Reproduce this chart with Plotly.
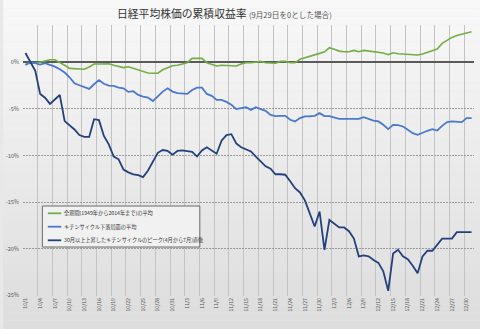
import pandas as pd
import plotly.graph_objects as go

# Calendar days plotted (2014-10-01 .. 2014-12-31), labelled "M/D"
days = pd.date_range("2014-10-01", "2014-12-31", freq="D")
day_labels = [f"{d.month}/{d.day}" for d in days]

series_names = [
    "全期間(1949年から2014年まで)の平均",
    "キチンサイクル下落局面の平均",
    "30月以上上昇したキチンサイクルのピーク(4月から7月)直後",
]

# Cumulative return (%) relative to 9/29
all_years_avg = [
    -0.2, -0.1, -0.1, 0.0, 0.14, 0.28, 0.28, 0.0, -0.32, -0.65,
    -0.68, -0.64, -0.75, -0.5, -0.18, -0.18, -0.18, -0.15, -0.32, -0.43,
    -0.57, -0.47, -0.64, -0.82, -0.96, -1.14, -1.18, -1.16, -0.8, -0.54,
    -0.36, -0.32, -0.18, -0.04, 0.42, 0.42, 0.42, -0.04, -0.22, -0.4,
    -0.32, -0.32, -0.32, -0.4, -0.18, -0.04, -0.04, 0.03, 0.1, -0.04,
    -0.04, -0.1, 0.1, 0.1, -0.04, -0.04, 0.32, 0.5, 0.6, 0.78,
    0.96, 1.13, 1.56, 1.39, 1.2, 1.13, 1.13, 1.28, 1.13, 1.28,
    1.2, 1.1, 1.1, 1.0, 0.81, 1.03, 0.92, 0.89, 0.85, 0.75,
    0.78, 0.89, 1.07, 1.24, 1.42, 2.03, 2.38, 2.67, 2.88, 3.02,
    3.2, 3.27,
]

downturn_avg = [
    -0.29, 0.03, -0.1, -0.25, -0.1, -0.25, -0.47, -0.75, -1.1, -1.6,
    -2.25, -2.46, -2.67, -2.85, -2.35, -1.9, -2.3, -2.5, -2.53, -2.71,
    -2.78, -3.17, -3.1, -3.5, -3.67, -3.78, -4.15, -3.6, -3.14, -2.78,
    -3.14, -3.31, -3.39, -3.39, -2.96, -2.71, -2.71, -3.39, -3.6, -4.03,
    -4.03, -4.24, -4.56, -5.02, -4.91, -4.81, -5.1, -4.81, -5.02, -5.2,
    -5.63, -5.77, -5.74, -5.74, -6.16, -6.34, -5.98, -5.8, -5.78, -5.74,
    -5.45, -5.77, -5.77, -5.88, -6.06, -6.06, -6.06, -6.06, -6.06, -5.88,
    -6.09, -6.24, -6.34, -6.7, -7.16, -6.7, -6.74, -6.88, -7.23, -7.59,
    -7.77, -7.52, -7.34, -7.16, -7.31, -6.81, -6.41, -6.34, -6.34, -6.41,
    -5.98, -5.98,
]

after_peak = [
    1.0, 0.0, -0.9, -3.4, -3.8, -4.45, -4.0, -3.5, -6.3, -6.7,
    -7.2, -7.8, -8.0, -8.0, -6.1, -6.2, -7.9, -8.8, -10.1, -10.4,
    -11.5, -11.8, -12.0, -12.1, -12.3, -11.6, -10.7, -9.7, -9.4, -9.5,
    -9.9, -9.5, -9.45, -9.5, -9.6, -10.1, -9.45, -9.1, -9.45, -9.8,
    -8.4, -7.8, -7.7, -8.7, -9.1, -9.3, -9.55, -10.1, -10.6, -11.15,
    -11.4, -12.0, -12.0, -12.05, -12.75, -13.5, -13.95, -14.8, -16.2, -17.6,
    -16.0, -20.1, -16.9, -17.3, -17.7, -17.7, -18.1, -18.9, -20.8, -20.7,
    -20.8, -21.2, -21.5, -22.4, -24.5, -20.5, -20.1, -20.8, -21.1, -21.8,
    -22.6, -20.8, -20.2, -20.2, -19.5, -18.9, -18.9, -18.9, -18.2, -18.2,
    -18.2, -18.2,
]

y_ticks = [0, -5, -10, -15, -20, -25]
y_tick_labels = ["0%", "-5%", "-10%", "-15%", "-20%", "-25%"]

colors = ["#72ae45", "#4a78cc", "#24407c"]
widths = [1.6, 1.8, 1.8]
FONT = "Noto Sans CJK JP, Noto Sans, sans-serif"

W, H = 480, 329
ML, MR, MT, MB = 20, 6, 25, 33
PW, PH = W - ML - MR, H - MT - MB

pos = list(range(len(days)))
label_step = 3
label_pos = pos[::label_step]

fig = go.Figure()
for name, vals, c, w in zip(series_names, [all_years_avg, downturn_avg, after_peak], colors, widths):
    fig.add_trace(go.Scatter(
        x=pos, y=vals, mode="lines", name=name,
        line=dict(color=c, width=w), showlegend=False,
    ))


def px_x(px):
    return (px - ML) / PW


def px_y(py):
    return (MT + PH - py) / PH


shapes = []
# soft vertical background gradient
n_bands = 40
top_c, bot_c = 248, 221
for k in range(n_bands):
    t = k / (n_bands - 1)
    g = round(top_c + (bot_c - top_c) * t)
    shapes.append(dict(
        type="rect", xref="paper", yref="paper", layer="below",
        x0=px_x(0), x1=px_x(W),
        y0=px_y(H * (k + 1) / n_bands), y1=px_y(H * k / n_bands),
        fillcolor=f"rgb({g},{g},{g})", line=dict(width=0),
    ))

# legend box
lx0, lx1, ly0, ly1 = 39.5, 198, 206, 247
shapes.append(dict(
    type="rect", xref="paper", yref="paper", layer="above",
    x0=px_x(lx0), x1=px_x(lx1), y0=px_y(ly1), y1=px_y(ly0),
    fillcolor="#f1f1f1", line=dict(color="#6a6a6a", width=1),
))
annotations = []
entry_y = [213.3, 226.7, 240.3]
for name, c, ey in zip(series_names, colors, entry_y):
    shapes.append(dict(
        type="line", xref="paper", yref="paper", layer="above",
        x0=px_x(45), x1=px_x(58.5), y0=px_y(ey), y1=px_y(ey),
        line=dict(color=c, width=1.8),
    ))
    annotations.append(dict(
        xref="paper", yref="paper", x=px_x(59.5), y=px_y(ey),
        xanchor="left", yanchor="middle", showarrow=False,
        text=name, font=dict(family=FONT, size=5.2, color="#333333"),
    ))

fig.update_layout(
    width=W, height=H,
    margin=dict(l=ML, r=MR, t=MT, b=MB, pad=0),
    paper_bgcolor="#e8e8e8",
    plot_bgcolor="rgba(0,0,0,0)",
    font=dict(family=FONT, color="#555555"),
    title=dict(
        text="日経平均株価の累積収益率 <span style='font-size:7.6px;color:#555555'>(9月29日を0とした場合)</span>",
        x=117 / W, xanchor="left", xref="container",
        y=1 - 14 / H, yanchor="middle", yref="container",
        font=dict(family=FONT, size=10.8, color="#333333"),
    ),
    xaxis=dict(
        range=[-0.5, len(days) - 0.5],
        tickmode="array", tickvals=label_pos,
        ticktext=[day_labels[i] for i in label_pos],
        tickangle=-90, tickfont=dict(size=5.2, color="#555555"),
        showgrid=False, zeroline=False, showline=False, ticks="",
        minor=dict(
            tickmode="array", tickvals=[p - 0.5 for p in label_pos],
            showgrid=True, gridcolor="#c3c3c3", gridwidth=1, ticks="",
        ),
        fixedrange=True,
    ),
    yaxis=dict(
        range=[-25.05, 4],
        tickmode="array", tickvals=y_ticks, ticktext=y_tick_labels,
        tickfont=dict(size=5.6, color="#555555"),
        showgrid=True, gridcolor="#9a9a9a", gridwidth=1, griddash="2px,1px",
        zeroline=True, zerolinecolor="#5a5a5a", zerolinewidth=1.5,
        showline=False, ticks="", ticklabelstandoff=3,
        fixedrange=True,
    ),
    shapes=shapes,
    annotations=annotations,
    showlegend=False,
)

fig.write_html("out.html")
